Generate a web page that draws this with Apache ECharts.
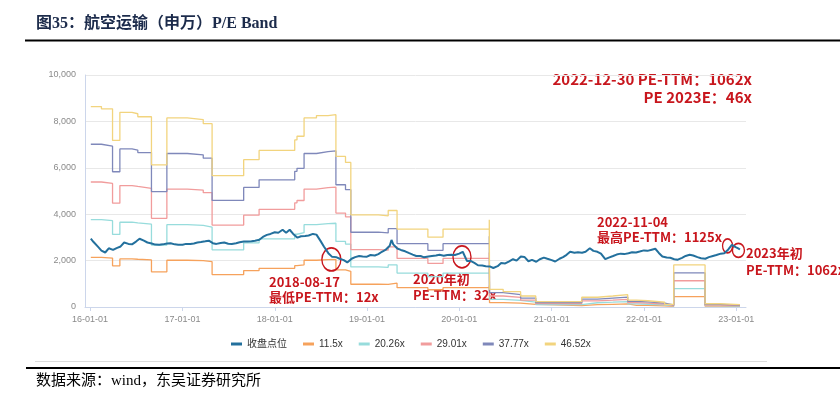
<!DOCTYPE html>
<html><head><meta charset="utf-8">
<script src="https://cdn.jsdelivr.net/npm/echarts@6/dist/echarts.min.js"></script>
<style>html,body{margin:0;padding:0;background:#fff}#c{width:840px;height:394px}</style>
</head><body><div id="c"></div>
<script>
// ---- data ----
const closeDates = [
'2016-01-04','2016-01-15','2016-02-01','2016-02-15','2016-03-01','2016-03-15','2016-04-01','2016-04-15','2016-05-01','2016-05-15','2016-06-01','2016-06-15',
'2016-07-01','2016-07-15','2016-08-01','2016-08-15','2016-09-01','2016-09-15','2016-10-01','2016-10-15','2016-11-01','2016-11-15','2016-12-01','2016-12-15',
'2017-01-01','2017-01-15','2017-02-01','2017-02-15','2017-03-01','2017-03-15','2017-04-01','2017-04-15','2017-05-01','2017-05-15','2017-06-01','2017-06-15',
'2017-07-01','2017-07-15','2017-08-01','2017-08-15','2017-09-01','2017-09-15','2017-10-01','2017-10-15','2017-11-01','2017-11-15','2017-12-01','2017-12-15',
'2018-01-01','2018-01-15','2018-02-01','2018-02-15','2018-03-01','2018-03-15','2018-04-01','2018-04-15','2018-05-01','2018-05-15','2018-06-01','2018-06-15',
'2018-07-01','2018-07-15','2018-08-01','2018-08-15','2018-09-01','2018-09-15','2018-10-01','2018-10-15','2018-11-01','2018-11-15','2018-12-01','2018-12-15',
'2019-01-01','2019-01-15','2019-02-01','2019-02-15','2019-03-01','2019-03-15','2019-04-01','2019-04-08','2019-04-15','2019-05-01','2019-05-15','2019-06-01','2019-06-15',
'2019-07-01','2019-07-15','2019-08-01','2019-08-15','2019-09-01','2019-09-15','2019-10-01','2019-10-15','2019-11-01','2019-11-15','2019-12-01','2019-12-15',
'2020-01-01','2020-01-15','2020-02-01','2020-02-15','2020-03-01','2020-03-15','2020-04-01','2020-04-15','2020-05-01','2020-05-15','2020-06-01','2020-06-15',
'2020-07-01','2020-07-15','2020-08-01','2020-08-15','2020-09-01','2020-09-15','2020-10-01','2020-10-15','2020-11-01','2020-11-15','2020-12-01','2020-12-15',
'2021-01-01','2021-01-15','2021-02-01','2021-02-15','2021-03-01','2021-03-15','2021-04-01','2021-04-15','2021-05-01','2021-05-15','2021-06-01','2021-06-15',
'2021-07-01','2021-07-15','2021-08-01','2021-08-15','2021-09-01','2021-09-15','2021-10-01','2021-10-15','2021-11-01','2021-11-15','2021-12-01','2021-12-15',
'2022-01-01','2022-01-15','2022-02-01','2022-02-15','2022-03-01','2022-03-15','2022-04-01','2022-04-15','2022-05-01','2022-05-15','2022-06-01','2022-06-15',
'2022-07-01','2022-07-15','2022-08-01','2022-08-15','2022-09-01','2022-09-15','2022-10-01','2022-10-15','2022-11-01','2022-11-15','2022-12-01','2022-12-08','2022-12-15','2022-12-30',
'2023-01-09','2023-01-16'
];
const closeValues = [
2950,2800,2600,2430,2350,2530,2460,2540,2610,2780,2720,2700,
2820,2940,2860,2780,2740,2690,2680,2700,2740,2750,2700,2680,
2680,2720,2720,2740,2780,2800,2830,2860,2750,2720,2760,2780,
2730,2720,2750,2790,2820,2820,2830,2860,2900,3020,3110,3150,
3220,3200,3330,3200,3330,3150,2990,3050,3060,3080,3150,3120,
2850,2600,2320,2170,2150,2080,2020,1920,2080,2150,2200,2180,
2170,2240,2220,2280,2380,2460,2640,2890,2700,2520,2460,2400,2330,
2260,2200,2200,2140,2180,2200,2220,2250,2210,2240,2250,2240,
2300,2380,1980,1990,1900,1800,1790,1760,1750,1680,1760,1900,
1880,1960,2060,2000,2180,2160,1970,2030,1950,2060,2130,2080,
2020,1960,2080,2150,2250,2380,2340,2360,2340,2380,2530,2420,
2380,2300,2060,2130,2200,2260,2300,2280,2320,2360,2350,2390,
2440,2420,2470,2510,2330,2180,2130,2120,2060,2040,2120,2200,
2250,2220,2150,2100,2080,2150,2200,2240,2300,2320,2480,2560,2680,2580,
2530,2480
];
const bandDates = [
'2016-01-04','2016-02-15','2016-03-30','2016-04-28','2016-06-15','2016-07-08','2016-08-31','2016-10-31',
'2017-01-20','2017-03-24','2017-04-28','2017-08-31','2017-10-31',
'2018-03-21','2018-03-30','2018-04-27','2018-06-15','2018-07-31','2018-08-31','2018-10-08','2018-10-29',
'2019-02-15','2019-03-26','2019-04-30','2019-08-30','2019-10-29',
'2020-04-29','2020-04-30','2020-06-23','2020-08-31','2020-10-30',
'2021-04-30','2021-07-01','2021-08-31','2021-10-29','2021-12-03',
'2022-01-17','2022-03-24','2022-04-29','2022-08-31','2022-10-31','2023-01-16'
];
const band11_5 = [2136,2111,1775,2074,2059,2027,1515,2015,1997,1953,1399,1570,1669,1780,1819,2015,2039,2049,1604,1540,981,972,1028,831,744,831,930,188,163,117,57,104,117,131,74,67,51,28,449,35,25,25];
const band20_26 = [3763,3719,3127,3654,3628,3571,2670,3549,3519,3441,2465,2766,2940,3136,3205,3549,3593,3610,2826,2713,1729,1712,1812,1463,1311,1463,1638,331,287,207,100,183,207,231,131,118,89,50,790,61,44,44];
const band29_01 = [5388,5326,4477,5232,5195,5114,3823,5082,5039,4926,3530,3960,4209,4490,4590,5082,5145,5170,4047,3885,2476,2451,2594,2095,1877,2095,2345,474,412,296,143,262,296,331,187,168,128,72,1132,87,62,62];
const band37_77 = [7015,6934,5830,6812,6763,6658,4977,6617,6560,6414,4595,5156,5480,5846,5976,6617,6698,6731,5269,5058,3223,3191,3378,2728,2444,2728,3053,617,536,386,187,341,386,430,244,219,166,93,1474,114,81,81];
const band46_52 = [8640,8540,7180,8390,8330,8200,6130,8150,8080,7900,5660,6350,6750,7200,7360,8150,8250,8290,6490,6230,3970,3930,4160,3360,3010,3360,3760,760,660,475,230,420,475,530,300,270,205,115,1815,140,100,100];
const seriesNames = ['收盘点位','11.5x','20.26x','29.01x','37.77x','46.52x'];
const xTickDates = ['2016-01-01','2017-01-01','2018-01-01','2019-01-01','2020-01-01','2021-01-01','2022-01-01','2023-01-01'];
const circleDates = ['2018-08-13','2020-01-12','2022-11-28','2023-01-10'];
const circleValues = [2050,2160,2635,2440];
const yMin = 0, yMax = 10000, yInterval = 2000;

// ---- chart ----
const chart = echarts.init(document.getElementById('c'), null, {renderer:'canvas'});
const ts = (d) => echarts.time.parse(d).getTime();
const pair = (ds, vs) => ds.map((d,i) => [ts(d), vs[i]]);
const bands = [band11_5, band20_26, band29_01, band37_77, band46_52];
const bandColors = ['#f6a25c','#97dcdc','#f19c9c','#7f88ba','#f2d47e'];
const closeColor = '#23709d';
const red = '#c8161d';
const redFont = '"Noto Sans CJK SC","Liberation Sans",sans-serif';
const tickVals = xTickDates.map(ts);
const circleSizes = [[19,23],[18,22],[10,14],[12,14]];

const series = [{
  name: seriesNames[0], type:'line', data: pair(closeDates, closeValues),
  showSymbol:false, symbol:'none', z:5,
  lineStyle:{color:closeColor, width:2}, itemStyle:{color:closeColor},
  markPoint:{
    silent:true, animation:false,
    data: circleDates.map((d,i)=>({coord:[ts(d), circleValues[i]], symbol:'circle', symbolSize:circleSizes[i]})),
    itemStyle:{color:'rgba(0,0,0,0)', borderColor:red, borderWidth:1.5},
    label:{show:false}
  }
}];
bands.forEach((b,i)=>{
  series.push({
    name: seriesNames[i+1], type:'line', step:'end', data: pair(bandDates, b),
    showSymbol:false, symbol:'none', z:2,
    lineStyle:{color:bandColors[i], width:1.3}, itemStyle:{color:bandColors[i]}
  });
});

const txt = (o) => Object.assign({type:'text', silent:true}, o);
chart.setOption({
  animation:false,
  backgroundColor:'#fff',
  grid:{left:85, right:94, top:75, bottom:87},
  xAxis:{
    type:'value',
    min: ts('2015-12-12'),
    max: ts('2023-02-09'),
    axisLine:{show:true, lineStyle:{color:'#ccd6eb', width:1}},
    axisTick:{show:true, customValues: tickVals, length:4, lineStyle:{color:'#ccd6eb'}},
    axisLabel:{customValues: tickVals, color:'#8a8a8a', fontSize:9, margin:8,
      fontFamily:'"Liberation Sans",Arial,sans-serif',
      formatter:(v)=>echarts.time.format(v,'{yy}-{MM}-{dd}',false)},
    splitLine:{show:false}
  },
  yAxis:{
    type:'value', min:yMin, max:yMax, interval:yInterval,
    axisLine:{show:true, lineStyle:{color:'#ccd6eb'}},
    axisTick:{show:false},
    axisLabel:{color:'#8a8a8a', fontSize:9, margin:9, fontFamily:'"Liberation Sans",Arial,sans-serif',
      formatter:(v)=>v.toLocaleString('en-US')},
    splitLine:{lineStyle:{color:'#e8e8e8', width:1}}
  },
  legend:{
    data: seriesNames, left:226, top:334, icon:'rect', itemWidth:11, itemHeight:3, itemGap:16,
    textStyle:{fontSize:10, color:'#333', fontFamily:'"Liberation Sans","Noto Sans CJK SC",sans-serif'}
  },
  series: series,
  graphic:[
    txt({left:36, top:16, style:{text:'图35：航空运输（申万）P/E Band', fill:'#1c2b4b',
      font:'bold 16px "Liberation Serif","Noto Sans CJK SC",serif'}}),
    {type:'line', silent:true, shape:{x1:25, y1:40.5, x2:840, y2:40.5}, style:{stroke:'#000', lineWidth:2}},
    {type:'line', silent:true, shape:{x1:35, y1:361.5, x2:767, y2:361.5}, style:{stroke:'#dcdcdc', lineWidth:1}},
    {type:'line', silent:true, shape:{x1:26, y1:368, x2:840, y2:368}, style:{stroke:'#000', lineWidth:2}},
    txt({left:36, top:374, style:{text:'数据来源：wind，东吴证券研究所', fill:'#000',
      font:'15px "Liberation Serif","Noto Sans CJK SC",serif'}}),
    txt({right:88, top:72, style:{text:'2022-12-30 PE-TTM：1062x', fill:red, font:'bold 15px '+redFont}}),
    txt({right:88, top:89.5, style:{text:'PE 2023E：46x', fill:red, font:'bold 15px '+redFont}}),
    txt({left:269, top:275.5, style:{text:'2018-08-17', fill:red, font:'bold 13px '+redFont}}),
    txt({left:269, top:290.5, style:{text:'最低PE-TTM：12x', fill:red, font:'bold 13px '+redFont}}),
    txt({left:413, top:273, style:{text:'2020年初', fill:red, font:'bold 13px '+redFont}}),
    txt({left:413, top:289, style:{text:'PE-TTM：32x', fill:red, font:'bold 13px '+redFont}}),
    txt({left:597, top:215.5, style:{text:'2022-11-04', fill:red, font:'bold 13px '+redFont}}),
    txt({left:597, top:230.5, style:{text:'最高PE-TTM：1125x', fill:red, font:'bold 13px '+redFont}}),
    txt({left:746, top:246.5, style:{text:'2023年初', fill:red, font:'bold 13px '+redFont}}),
    txt({left:746, top:263.5, style:{text:'PE-TTM：1062x', fill:red, font:'bold 13px '+redFont}})
  ]
});
</script>
</body></html>
